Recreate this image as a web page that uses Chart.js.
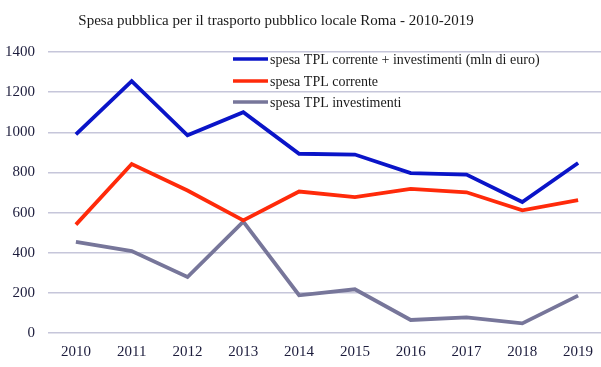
<!DOCTYPE html>
<html>
<head>
<meta charset="utf-8">
<script src="https://cdn.jsdelivr.net/npm/chart.js@4/dist/chart.umd.min.js"></script>
<style>
  html, body { margin: 0; padding: 0; background: #fff; overflow: hidden; }
  #wrap { width: 618px; height: 371px; position: relative; margin-left: -12px; }
</style>
</head>
<body>
<div id="wrap"><canvas id="myChart"></canvas></div>
<script>
// data
const years = ['2010', '2011', '2012', '2013', '2014', '2015', '2016', '2017', '2018', '2019'];
const totale = [990, 1255, 985, 1100, 893, 889, 797, 789, 653, 847];
const corrente = [540, 842, 710, 561, 705, 677, 718, 701, 611, 662];
const investimenti = [454, 408, 279, 555, 188, 218, 65, 78, 48, 186];
const seriesNames = [
    'spesa TPL corrente + investimenti (mln di euro)',
    'spesa TPL corrente',
    'spesa TPL investimenti'
];
const seriesColors = ['#0a14c8', '#ff2a0a', '#77769a'];
const chartTitle = 'Spesa pubblica per il trasporto pubblico locale Roma - 2010-2019';

const serif = "'Liberation Serif', 'Times New Roman', serif";
const shiftX = 12; // wrapper is moved 12px left

// title (centred a bit left of the canvas) and legend inside the plot
const decorations = {
    id: 'decorations',
    afterDatasetsDraw(chart) {
        const ctx = chart.ctx;
        ctx.save();
        ctx.font = '15px ' + serif;
        ctx.fillStyle = '#1a1a1a';
        ctx.textAlign = 'center';
        ctx.textBaseline = 'middle';
        ctx.fillText(chartTitle, 276 + shiftX, 21);

        const x0 = 233 + shiftX, x1 = 268 + shiftX;
        const rows = [59, 81, 102];
        ctx.font = '14px ' + serif;
        ctx.textAlign = 'left';
        chart.data.datasets.forEach((ds, i) => {
            ctx.strokeStyle = ds.borderColor;
            ctx.lineWidth = 3.5;
            ctx.beginPath();
            ctx.moveTo(x0, rows[i]);
            ctx.lineTo(x1, rows[i]);
            ctx.stroke();
            ctx.fillStyle = '#1a1a1a';
            ctx.fillText(ds.label, x1 + 2, rows[i] + 1);
        });
        ctx.restore();
    }
};

const ctx = document.getElementById('myChart').getContext('2d');

new Chart(ctx, {
    type: 'line',
    data: {
        labels: years,
        datasets: [totale, corrente, investimenti].map((vals, i) => ({
            label: seriesNames[i],
            data: vals,
            borderColor: seriesColors[i],
            backgroundColor: seriesColors[i],
            borderWidth: 3.8,
            pointRadius: 0,
            tension: 0,
            borderJoinStyle: 'miter'
        }))
    },
    options: {
        responsive: true,
        maintainAspectRatio: false,
        animation: false,
        layout: {
            padding: { left: 4, right: 0, top: 52, bottom: 0 }
        },
        scales: {
            x: {
                offset: true,
                grid: { display: false, drawTicks: false },
                border: { display: false },
                ticks: {
                    color: '#1c1c3c',
                    padding: 10,
                    maxRotation: 0,
                    font: { family: serif, size: 15 }
                }
            },
            y: {
                min: 0,
                max: 1400,
                grid: { color: '#c6c6da', lineWidth: 1.5, drawTicks: false },
                border: { display: false },
                ticks: {
                    stepSize: 200,
                    color: '#1c1c3c',
                    padding: 13,
                    font: { family: serif, size: 15 },
                    callback: (v) => String(v)
                }
            }
        },
        plugins: {
            legend: { display: false },
            tooltip: { enabled: false },
            title: { display: false }
        }
    },
    plugins: [decorations]
});
</script>
</body>
</html>
